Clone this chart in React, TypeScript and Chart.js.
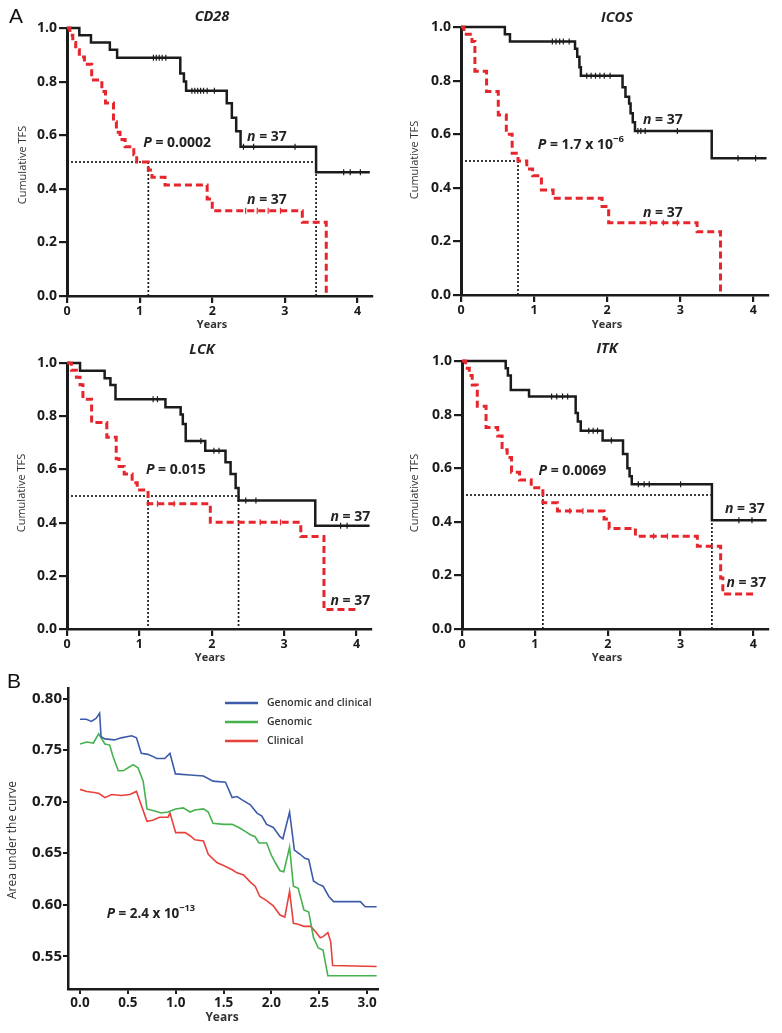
import React, { useEffect, useRef } from "react";
import { Chart, registerables } from "chart.js";

Chart.register(...registerables);

const FONT = "'Open Sans', 'DejaVu Sans', Arial, sans-serif";
const INK = "#1b1b1b";
const RED_A = "#e6262c";

// ---------------- Panel A : Kaplan-Meier data (years, cumulative TFS) ----------------
const kmXTicks = [0, 1, 2, 3, 4];
const kmYTicks = [0, 0.2, 0.4, 0.6, 0.8, 1.0];
const kmXMax = 4.2;
const groupSize = 37;

const cd28HighT = [0, 0.17, 0.33, 0.59, 0.69, 1.56, 1.61, 1.64, 2.2, 2.27, 2.33, 2.39, 3.43, 4.17];
const cd28HighS = [1, 0.973, 0.946, 0.919, 0.889, 0.83, 0.8, 0.766, 0.719, 0.665, 0.615, 0.557, 0.462, 0.462];
const cd28LowT = [0, 0.04, 0.08, 0.12, 0.17, 0.24, 0.34, 0.48, 0.53, 0.64, 0.68, 0.73, 0.8, 0.92, 0.96, 1.12, 1.17, 1.35, 1.93, 2.0, 3.24, 3.57];
const cd28LowS = [1, 0.973, 0.946, 0.919, 0.892, 0.865, 0.806, 0.763, 0.72, 0.65, 0.611, 0.584, 0.557, 0.527, 0.5, 0.47, 0.443, 0.414, 0.362, 0.318, 0.275, 0];
const cd28HighCensor = [1.19, 1.23, 1.27, 1.31, 1.36, 1.72, 1.76, 1.8, 1.84, 1.88, 1.93, 2.03, 2.43, 2.57, 3.14, 3.81, 3.9, 4.04];
const cd28LowCensor = [2.46, 2.62, 2.77, 2.94];
const cd28Medians = [1.12, 3.43];

const icosHighT = [0, 0.6, 0.67, 1.56, 1.59, 1.62, 1.64, 2.21, 2.25, 2.3, 2.32, 2.35, 2.38, 3.43, 4.18];
const icosHighS = [1, 0.973, 0.946, 0.919, 0.889, 0.85, 0.818, 0.775, 0.74, 0.715, 0.678, 0.645, 0.612, 0.51, 0.51];
const icosLowT = [0, 0.04, 0.15, 0.19, 0.35, 0.51, 0.62, 0.7, 0.78, 0.9, 0.98, 1.1, 1.26, 1.93, 2.02, 3.23, 3.55];
const icosLowS = [1, 0.973, 0.946, 0.835, 0.759, 0.672, 0.6, 0.529, 0.5, 0.47, 0.445, 0.392, 0.361, 0.33, 0.27, 0.236, 0];
const icosHighCensor = [1.25, 1.3, 1.35, 1.4, 1.48, 1.72, 1.78, 1.84, 1.9, 1.96, 2.04, 2.42, 2.46, 2.52, 2.96, 3.79, 4.03];
const icosLowCensor = [2.59, 2.77, 2.96];
const icosMedians = [0.78];

const lckHighT = [0, 0.18, 0.52, 0.6, 0.67, 1.36, 1.57, 1.6, 1.64, 1.91, 2.19, 2.26, 2.33, 2.37, 3.43, 4.18];
const lckHighS = [1, 0.971, 0.943, 0.917, 0.864, 0.834, 0.806, 0.771, 0.707, 0.67, 0.627, 0.583, 0.53, 0.483, 0.388, 0.388];
const lckLowT = [0, 0.06, 0.13, 0.18, 0.22, 0.34, 0.55, 0.68, 0.72, 0.79, 0.9, 0.97, 1.12, 1.98, 3.23, 3.55, 4.0];
const lckLowS = [1, 0.973, 0.946, 0.918, 0.864, 0.776, 0.721, 0.64, 0.611, 0.583, 0.55, 0.523, 0.471, 0.401, 0.348, 0.073, 0.073];
const lckHighCensor = [1.19, 1.25, 1.85, 2.03, 2.1, 2.47, 2.61, 3.78, 3.87];
const lckLowCensor = [1.25, 1.48, 2.67, 2.95];
const lckMedians = [1.12, 2.37];

const itkHighT = [0, 0.6, 0.63, 0.67, 0.92, 1.56, 1.59, 1.63, 1.93, 2.21, 2.27, 2.3, 2.33, 3.43, 4.18];
const itkHighS = [1, 0.973, 0.946, 0.892, 0.868, 0.806, 0.774, 0.74, 0.703, 0.653, 0.6, 0.57, 0.54, 0.406, 0.406];
const itkLowT = [0, 0.05, 0.1, 0.14, 0.21, 0.33, 0.49, 0.55, 0.62, 0.68, 0.79, 0.95, 1.11, 1.31, 1.95, 2.02, 2.38, 3.23, 3.55, 3.58, 4.0];
const itkLowS = [1, 0.973, 0.946, 0.91, 0.831, 0.752, 0.72, 0.669, 0.64, 0.585, 0.556, 0.527, 0.471, 0.44, 0.41, 0.375, 0.346, 0.309, 0.19, 0.131, 0.131];
const itkHighCensor = [1.23, 1.3, 1.38, 1.45, 1.74, 1.8, 1.86, 2.05, 2.42, 2.5, 2.57, 3.0, 3.8, 3.98];
const itkLowCensor = [1.48, 1.66, 2.63, 2.82];
const itkMedians = [1.11, 3.43];

// ---------------- Panel B : AUC over time ----------------
const aucXTicks = [0, 0.5, 1.0, 1.5, 2.0, 2.5, 3.0];
const aucYTicks = [0.55, 0.6, 0.65, 0.7, 0.75, 0.8];
const aucSeriesNames = ["Genomic and clinical", "Genomic", "Clinical"];

const gcYears = [0, 0.066, 0.12, 0.17, 0.205, 0.22, 0.26, 0.36, 0.43, 0.54, 0.59, 0.64, 0.71, 0.76, 0.8, 0.885, 0.94, 0.997, 1.15, 1.29, 1.39, 1.52, 1.59, 1.64, 1.69, 1.78, 1.85, 1.9, 1.95, 2.02, 2.09, 2.12, 2.19, 2.24, 2.3, 2.35, 2.39, 2.44, 2.49, 2.54, 2.6, 2.65, 2.93, 2.98, 3.1];
const gcAuc = [0.78, 0.78, 0.778, 0.781, 0.786, 0.763, 0.761, 0.76, 0.762, 0.764, 0.762, 0.747, 0.746, 0.744, 0.742, 0.742, 0.747, 0.727, 0.726, 0.725, 0.72, 0.719, 0.704, 0.705, 0.702, 0.697, 0.689, 0.686, 0.678, 0.675, 0.666, 0.664, 0.69, 0.653, 0.649, 0.645, 0.644, 0.623, 0.62, 0.618, 0.608, 0.603, 0.603, 0.598, 0.598];

const genYears = [0, 0.07, 0.14, 0.195, 0.26, 0.31, 0.345, 0.4, 0.45, 0.52, 0.555, 0.606, 0.66, 0.7, 0.78, 0.85, 0.92, 0.997, 1.08, 1.15, 1.2, 1.29, 1.34, 1.39, 1.5, 1.59, 1.66, 1.73, 1.78, 1.83, 1.87, 1.95, 2.0, 2.04, 2.09, 2.13, 2.19, 2.23, 2.28, 2.34, 2.39, 2.44, 2.49, 2.54, 2.59, 3.1];
const genAuc = [0.756, 0.758, 0.757, 0.766, 0.756, 0.755, 0.744, 0.73, 0.73, 0.734, 0.736, 0.733, 0.72, 0.693, 0.691, 0.689, 0.69, 0.693, 0.694, 0.69, 0.692, 0.693, 0.69, 0.679, 0.678, 0.678, 0.675, 0.671, 0.668, 0.666, 0.66, 0.66, 0.648, 0.641, 0.633, 0.632, 0.656, 0.618, 0.616, 0.595, 0.593, 0.568, 0.558, 0.556, 0.531, 0.531];

const clinYears = [0, 0.07, 0.15, 0.2, 0.26, 0.33, 0.43, 0.52, 0.59, 0.62, 0.7, 0.76, 0.83, 0.92, 0.94, 1.0, 1.1, 1.15, 1.2, 1.29, 1.34, 1.43, 1.5, 1.59, 1.64, 1.71, 1.78, 1.83, 1.88, 1.95, 2.02, 2.09, 2.14, 2.19, 2.23, 2.28, 2.34, 2.41, 2.46, 2.51, 2.54, 2.59, 2.62, 2.64, 3.1];
const clinAuc = [0.712, 0.71, 0.709, 0.708, 0.704, 0.707, 0.706, 0.707, 0.71, 0.702, 0.681, 0.682, 0.685, 0.685, 0.689, 0.67, 0.67, 0.667, 0.663, 0.662, 0.649, 0.641, 0.638, 0.634, 0.631, 0.629, 0.622, 0.618, 0.608, 0.604, 0.599, 0.59, 0.588, 0.613, 0.582, 0.581, 0.579, 0.579, 0.574, 0.568, 0.569, 0.573, 0.564, 0.541, 0.54];

// ---------------- helpers ----------------
type Seg = { t: string; it?: boolean; sup?: boolean };
type Label = {
  segs: Seg[];
  x: number;
  y: number;
  data?: boolean;
  size: number;
  weight?: string;
  italic?: boolean;
  align?: "left" | "center";
  rotate?: boolean;
  color?: string;
};

function fontStr(size: number, weight: string, italic: boolean) {
  return `${italic ? "italic " : ""}${weight} ${size}px ${FONT}`;
}

function drawRich(ctx: CanvasRenderingContext2D, l: Label, x0: number, y0: number) {
  ctx.save();
  ctx.fillStyle = l.color || "#222";
  ctx.textBaseline = "middle";
  ctx.textAlign = "left";
  const weight = l.weight || "normal";
  const parts = l.segs.map((s) => {
    const size = s.sup ? l.size * 0.68 : l.size;
    const f = fontStr(size, weight, !!(s.it || l.italic));
    ctx.font = f;
    return { s, f, w: ctx.measureText(s.t).width };
  });
  const total = parts.reduce((a, p) => a + p.w, 0);
  let x = x0;
  let y = y0;
  if (l.rotate) {
    ctx.translate(x0, y0);
    ctx.rotate(-Math.PI / 2);
    x = 0;
    y = 0;
  }
  let cx = l.align === "center" ? x - total / 2 : x;
  for (const p of parts) {
    ctx.font = p.f;
    ctx.fillText(p.s.t, cx, p.s.sup ? y - l.size * 0.42 : y);
    cx += p.w;
  }
  ctx.restore();
}

function makeTextPlugin(items: Label[], extra?: (chart: any) => void) {
  return {
    id: "richText",
    afterDraw(chart: any) {
      const ctx = chart.ctx as CanvasRenderingContext2D;
      for (const l of items) {
        let x = l.x;
        let y = l.y;
        if (l.data) {
          x = chart.scales.x.getPixelForValue(l.x);
          y = chart.scales.y.getPixelForValue(l.y);
        }
        drawRich(ctx, l, x, y);
      }
      if (extra) extra(chart);
    },
  };
}

function stepAt(T: number[], S: number[], t: number) {
  let s = S[0];
  for (let i = 0; i < T.length; i++) if (T[i] <= t) s = S[i];
  return s;
}

type Box = { left: number; top: number; w: number; h: number; areaLeft: number; areaTop: number; areaBottom: number; areaRight: number };

type KMPanel = {
  gene: string;
  highT: number[];
  highS: number[];
  lowT: number[];
  lowS: number[];
  highCensor: number[];
  lowCensor: number[];
  medians: number[];
  pSegs: Seg[];
  box: Box;
  titlePos: [number, number];
  yTitlePos: [number, number];
  xTitlePos: [number, number];
  pPos: [number, number];
  nHighPos: [number, number];
  nLowPos: [number, number];
};

const nSegs: Seg[] = [{ t: "n", it: true }, { t: ` = ${groupSize}` }];

const kmPanels: KMPanel[] = [
  {
    gene: "CD28",
    highT: cd28HighT, highS: cd28HighS, lowT: cd28LowT, lowS: cd28LowS,
    highCensor: cd28HighCensor, lowCensor: cd28LowCensor, medians: cd28Medians,
    pSegs: [{ t: "P", it: true }, { t: " = 0.0002" }],
    box: { left: 0, top: 0, w: 390, h: 335, areaLeft: 67, areaTop: 28, areaBottom: 296, areaRight: 372 },
    titlePos: [212, 17], yTitlePos: [23, 165], xTitlePos: [212, 325],
    pPos: [1.05, 0.571], nHighPos: [2.48, 0.593], nLowPos: [2.48, 0.358],
  },
  {
    gene: "ICOS",
    highT: icosHighT, highS: icosHighS, lowT: icosLowT, lowS: icosLowS,
    highCensor: icosHighCensor, lowCensor: icosLowCensor, medians: icosMedians,
    pSegs: [{ t: "P", it: true }, { t: " = 1.7 x 10" }, { t: "\u22126", sup: true }],
    box: { left: 390, top: 0, w: 392, h: 335, areaLeft: 71, areaTop: 27, areaBottom: 295, areaRight: 378 },
    titlePos: [227, 18], yTitlePos: [25, 160], xTitlePos: [217, 325],
    pPos: [1.05, 0.56], nHighPos: [2.49, 0.653], nLowPos: [2.49, 0.306],
  },
  {
    gene: "LCK",
    highT: lckHighT, highS: lckHighS, lowT: lckLowT, lowS: lckLowS,
    highCensor: lckHighCensor, lowCensor: lckLowCensor, medians: lckMedians,
    pSegs: [{ t: "P", it: true }, { t: " = 0.015" }],
    box: { left: 0, top: 335, w: 390, h: 335, areaLeft: 67, areaTop: 28, areaBottom: 294, areaRight: 371 },
    titlePos: [202, 15], yTitlePos: [22, 158], xTitlePos: [210, 323],
    pPos: [1.09, 0.596], nHighPos: [3.64, 0.422], nLowPos: [3.64, 0.104],
  },
  {
    gene: "ITK",
    highT: itkHighT, highS: itkHighS, lowT: itkLowT, lowS: itkLowS,
    highCensor: itkHighCensor, lowCensor: itkLowCensor, medians: itkMedians,
    pSegs: [{ t: "P", it: true }, { t: " = 0.0069" }],
    box: { left: 390, top: 335, w: 392, h: 335, areaLeft: 72, areaTop: 26, areaBottom: 294, areaRight: 378 },
    titlePos: [217, 14], yTitlePos: [25, 158], xTitlePos: [217, 323],
    pPos: [1.05, 0.591], nHighPos: [3.61, 0.449], nLowPos: [3.63, 0.173],
  },
];

function KMChart({ p }: { p: KMPanel }) {
  const ref = useRef<HTMLCanvasElement>(null);
  useEffect(() => {
    const canvas = ref.current;
    if (!canvas) return;
    const B = p.box;
    const pts = (T: number[], S: number[]) => T.map((t, i) => ({ x: t, y: S[i] }));
    const medMax = Math.max(...p.medians);
    const dotted = { borderColor: INK, borderWidth: 1.7, borderDash: [2, 2], pointRadius: 0, order: 5 };
    const datasets: any[] = [
      { data: pts(p.highT, p.highS), borderColor: INK, borderWidth: 2.5, stepped: true, pointRadius: 0, clip: false, order: 1 },
      { data: pts(p.lowT, p.lowS), borderColor: RED_A, borderWidth: 3, borderDash: [7, 4], stepped: true, pointRadius: 0, clip: false, order: 0 },
      {
        type: "scatter",
        data: p.highCensor.map((t) => ({ x: t, y: stepAt(p.highT, p.highS, t) })),
        pointStyle: "line", pointRadius: 3, pointRotation: 90, pointBorderColor: INK, pointBorderWidth: 1.2, order: 2,
      },
      {
        type: "scatter",
        data: p.lowCensor.map((t) => ({ x: t, y: stepAt(p.lowT, p.lowS, t) })),
        pointStyle: "line", pointRadius: 3, pointRotation: 90, pointBorderColor: RED_A, pointBorderWidth: 1.2, order: 2,
      },
      { ...dotted, data: [{ x: 0, y: 0.5 }, { x: medMax, y: 0.5 }] },
      ...p.medians.map((m) => ({ ...dotted, data: [{ x: m, y: 0.5 }, { x: m, y: 0 }] })),
    ];

    const labels: Label[] = [
      { segs: [{ t: p.gene }], x: p.titlePos[0], y: p.titlePos[1], size: 14.5, weight: "bold", italic: true, align: "center", color: "#222" },
      { segs: [{ t: "Cumulative TFS" }], x: p.yTitlePos[0], y: p.yTitlePos[1], size: 11, weight: "normal", rotate: true, align: "center", color: "#333" },
      { segs: [{ t: "Years" }], x: p.xTitlePos[0], y: p.xTitlePos[1], size: 11, weight: "bold", align: "center", color: "#333" },
      { segs: p.pSegs, x: p.pPos[0], y: p.pPos[1], data: true, size: 14, weight: "bold", color: "#222" },
      { segs: nSegs, x: p.nHighPos[0], y: p.nHighPos[1], data: true, size: 14, weight: "bold", color: "#222" },
      { segs: nSegs, x: p.nLowPos[0], y: p.nLowPos[1], data: true, size: 14, weight: "bold", color: "#222" },
    ];

    const tickFont = { family: FONT, weight: "bold" as const };
    const chart = new Chart(canvas, {
      type: "line",
      data: { datasets },
      options: {
        responsive: false,
        maintainAspectRatio: false,
        animation: false,
        devicePixelRatio: 1,
        events: [],
        layout: { padding: { left: 0, top: B.areaTop, right: B.w - B.areaRight, bottom: 0 } },
        plugins: { legend: { display: false }, tooltip: { enabled: false }, title: { display: false } },
        scales: {
          x: {
            type: "linear",
            min: 0,
            max: kmXMax,
            afterFit: (s: any) => { s.height = B.h - B.areaBottom; },
            afterBuildTicks: (s: any) => { s.ticks = kmXTicks.map((v) => ({ value: v })); },
            ticks: { font: { ...tickFont, size: 12.5 }, color: INK, padding: 1, maxRotation: 0, autoSkip: false, callback: (v: any) => String(v) },
            grid: { drawOnChartArea: false, drawTicks: true, tickLength: 7, color: INK, lineWidth: 2.2 },
            border: { display: true, color: INK, width: 2.5 },
          },
          y: {
            type: "linear",
            min: 0,
            max: 1,
            afterFit: (s: any) => { s.width = B.areaLeft; },
            afterBuildTicks: (s: any) => { s.ticks = kmYTicks.map((v) => ({ value: v })); },
            ticks: { font: { ...tickFont, size: 14 }, color: INK, padding: 2, autoSkip: false, callback: (v: any) => Number(v).toFixed(1) },
            grid: { drawOnChartArea: false, drawTicks: true, tickLength: 8, color: INK, lineWidth: 2.2 },
            border: { display: true, color: INK, width: 3 },
          },
        },
      } as any,
      plugins: [makeTextPlugin(labels)],
    });
    return () => chart.destroy();
  }, [p]);
  const B = p.box;
  return (
    <canvas
      ref={ref}
      width={B.w}
      height={B.h}
      style={{ position: "absolute", left: B.left, top: B.top, width: B.w, height: B.h }}
    />
  );
}

const aucBox: Box = { left: 0, top: 670, w: 390, h: 363, areaLeft: 68, areaTop: 18, areaBottom: 319, areaRight: 378 };
const aucColors = ["#3d5ba9", "#45b24e", "#e8413c"];

function AucChart() {
  const ref = useRef<HTMLCanvasElement>(null);
  useEffect(() => {
    const canvas = ref.current;
    if (!canvas) return;
    const B = aucBox;
    const series = [
      { T: gcYears, V: gcAuc },
      { T: genYears, V: genAuc },
      { T: clinYears, V: clinAuc },
    ];
    const datasets: any[] = series.map((s, k) => ({
      label: aucSeriesNames[k],
      data: s.T.map((t, i) => ({ x: t, y: s.V[i] })),
      borderColor: aucColors[k],
      borderWidth: 1.6,
      pointRadius: 0,
      tension: 0,
      order: k,
    }));
    const labels: Label[] = [
      { segs: [{ t: "Area under the curve" }], x: 13, y: 170, size: 12, weight: "normal", rotate: true, align: "center", color: "#333" },
      { segs: [{ t: "Years" }], x: 222, y: 348, size: 12, weight: "bold", align: "center", color: "#333" },
      { segs: [{ t: "P", it: true }, { t: " = 2.4 x 10" }, { t: "\u221213", sup: true }], x: 0.28, y: 0.591, data: true, size: 13.5, weight: "bold", color: "#222" },
    ];
    const legendRows = [33, 52, 71];
    const drawLegend = (chart: any) => {
      const ctx = chart.ctx as CanvasRenderingContext2D;
      aucSeriesNames.forEach((name, k) => {
        const y = legendRows[k];
        ctx.save();
        ctx.strokeStyle = aucColors[k];
        ctx.lineWidth = 2.5;
        ctx.beginPath();
        ctx.moveTo(225, y);
        ctx.lineTo(258, y);
        ctx.stroke();
        ctx.restore();
        drawRich(ctx, { segs: [{ t: name }], x: 267, y, size: 10.5, weight: "600", color: "#333" }, 267, y);
      });
    };
    const tickFont = { family: FONT, weight: "bold" as const };
    const chart = new Chart(canvas, {
      type: "line",
      data: { datasets },
      options: {
        responsive: false,
        maintainAspectRatio: false,
        animation: false,
        devicePixelRatio: 1,
        events: [],
        layout: { padding: { left: 0, top: B.areaTop, right: B.w - B.areaRight, bottom: 0 } },
        plugins: { legend: { display: false }, tooltip: { enabled: false }, title: { display: false } },
        scales: {
          x: {
            type: "linear",
            min: -0.1255,
            max: 3.114,
            afterFit: (s: any) => { s.height = B.h - B.areaBottom; },
            afterBuildTicks: (s: any) => { s.ticks = aucXTicks.map((v) => ({ value: v })); },
            ticks: { font: { ...tickFont, size: 13.5 }, color: INK, padding: 1, maxRotation: 0, autoSkip: false, callback: (v: any) => Number(v).toFixed(1) },
            grid: { drawOnChartArea: false, drawTicks: true, tickLength: 5, color: INK, lineWidth: 2 },
            border: { display: true, color: INK, width: 2.5 },
          },
          y: {
            type: "linear",
            min: 0.5182,
            max: 0.8104,
            afterFit: (s: any) => { s.width = B.areaLeft; },
            afterBuildTicks: (s: any) => { s.ticks = aucYTicks.map((v) => ({ value: v })); },
            ticks: { font: { ...tickFont, size: 15 }, color: INK, padding: 1, autoSkip: false, callback: (v: any) => Number(v).toFixed(2) },
            grid: { drawOnChartArea: false, drawTicks: true, tickLength: 5, color: INK, lineWidth: 2 },
            border: { display: true, color: INK, width: 2.5 },
          },
        },
      } as any,
      plugins: [makeTextPlugin(labels, drawLegend)],
    });
    return () => chart.destroy();
  }, []);
  const B = aucBox;
  return (
    <canvas
      ref={ref}
      width={B.w}
      height={B.h}
      style={{ position: "absolute", left: B.left, top: B.top, width: B.w, height: B.h }}
    />
  );
}

export default function App() {
  const panelLetter: React.CSSProperties = {
    position: "absolute",
    fontFamily: "'Liberation Sans', Arial, sans-serif",
    fontSize: 21,
    lineHeight: "21px",
    color: "#111",
  };
  return (
    <div style={{ position: "absolute", left: 0, top: 0, width: 782, height: 1033, background: "#fff", overflow: "hidden" }}>
      {kmPanels.map((p) => (
        <KMChart key={p.gene} p={p} />
      ))}
      <AucChart />
      <div style={{ ...panelLetter, left: 9, top: 5 }}>A</div>
      <div style={{ ...panelLetter, left: 7, top: 670 }}>B</div>
    </div>
  );
}
